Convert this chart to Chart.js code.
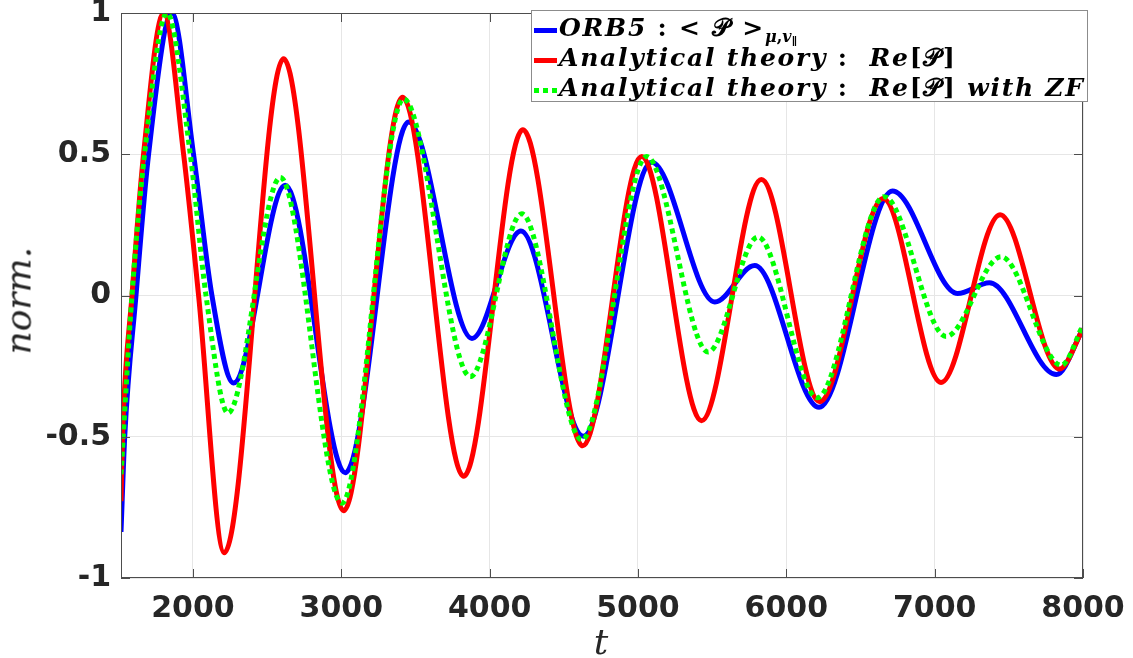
<!DOCTYPE html>
<html>
<head>
<meta charset="utf-8">
<script src="https://cdn.jsdelivr.net/npm/chart.js@4/dist/chart.umd.min.js"></script>
<style>
  body { margin: 0; background: #fff; }
  #wrap { position: relative; width: 1133px; height: 658px; background: #fff; }
  #legend {
    position: absolute; left: 531px; top: 10px; width: 557px; height: 92px;
    background: #fff; border: 1px solid #8c8c8c; box-sizing: border-box;
    font-family: "DejaVu Serif", serif; font-weight: bold; font-size: 25px; color: #000;
    letter-spacing: 1.75px;
  }
  .row { position: absolute; left: 0; height: 30px; line-height: 30px; white-space: nowrap; }
  .ln { position: absolute; left: 2px; top: 15px; width: 23px; height: 5px; }
  .dots { background: repeating-linear-gradient(90deg, #00ff00 0 5px, transparent 5px 9px); }
  .tx { position: absolute; left: 27px; top: 0; }
  .tx i { font-style: italic; }
  .tx sub { font-size: 16px; vertical-align: -6px; line-height: 0; letter-spacing: 0; }
  .tx sub sub { font-size: 11px; vertical-align: -3px; }
  #ylab { position: absolute; left: -22px; top: 294px; width: 80px; text-align: center;
    transform: rotate(-90deg); font-family: "DejaVu Serif", serif; font-style: italic; font-size: 36px; color: #262626; }
  #xlab { position: absolute; left: 581px; top: 621px; width: 40px; text-align: center;
    font-family: "DejaVu Serif", serif; font-style: italic; font-size: 36px; color: #262626; }
</style>
</head>
<body>
<div id="wrap">
  <canvas id="chart" width="1133" height="658"></canvas>
  <div id="legend">
    <div class="row" style="top:2px"><span class="ln" style="background:#0000ff"></span><span class="tx"><i>ORB5</i> : &lt; 𝒫 &gt;<sub><i>μ</i>,<i>v</i><sub>∥</sub></sub></span></div>
    <div class="row" style="top:32px"><span class="ln" style="background:#ff0000"></span><span class="tx"><i>Analytical theory</i> :&nbsp; <i>Re</i>[𝒫]</span></div>
    <div class="row" style="top:62px"><span class="ln dots"></span><span class="tx"><i>Analytical theory</i> :&nbsp; <i>Re</i>[𝒫] <i>with ZF</i></span></div>
  </div>
  <div id="ylab">norm.</div>
  <div id="xlab">t</div>
</div>
<script>
// ORB5 simulation
const orbT = [1515, 1540, 1616, 1701, 1858, 2004, 2128, 2274, 2622, 3027, 3454, 3881, 4211, 4632, 5092, 5518, 5787, 6221, 6716, 7155, 7369, 7820, 8000];
const orbY = [-0.837, -0.5, 0, 0.5, 1.0, 0.5, 0, -0.31, 0.39, -0.627, 0.614, -0.152, 0.228, -0.498, 0.472, -0.023, 0.106, -0.396, 0.37, 0.007, 0.045, -0.28, -0.118];

// analytical theory Re[P]
const anaT = [1515, 1525, 1589, 1667, 1802, 1937, 2038, 2211, 2611, 3016, 3413, 3825, 4224, 4628, 5025, 5428, 5832, 6225, 6653, 7043, 7441, 7842, 8000];
const anaY = [-0.728, -0.5, 0, 0.5, 1.0, 0.5, 0, -0.911, 0.838, -0.762, 0.702, -0.64, 0.587, -0.532, 0.492, -0.443, 0.411, -0.376, 0.343, -0.308, 0.286, -0.26, -0.118];

// analytical theory Re[P] with zonal flow
const zfT = [1515, 1589, 1674, 1825, 1982, 2088, 2236, 2589, 3004, 3420, 3870, 4217, 4621, 5058, 5473, 5809, 6209, 6660, 7077, 7448, 7854, 8000];
const zfY = [-0.633, 0, 0.5, 1.0, 0.5, 0, -0.416, 0.418, -0.735, 0.696, -0.287, 0.289, -0.511, 0.492, -0.2, 0.207, -0.362, 0.35, -0.145, 0.137, -0.247, -0.105];

const xTicks = [2000, 3000, 4000, 5000, 6000, 7000, 8000];
const yTicks = [-1, -0.5, 0, 0.5, 1];

const pts = (xs, ys) => xs.map((x, i) => ({ x: x, y: ys[i] }));

// box round the axes with inward ticks, like matlab
const framePlugin = {
  id: "frame",
  afterDatasetsDraw(chart) {
    const { ctx, chartArea: a, scales } = chart;
    ctx.save();
    ctx.strokeStyle = "#4d4d4d";
    ctx.lineWidth = 1;
    ctx.strokeRect(a.left + 0.5, a.top + 0.5, a.width - 1, a.height - 1);
    ctx.beginPath();
    for (const v of xTicks) {
      const px = Math.round(scales.x.getPixelForValue(v)) + 0.5;
      ctx.moveTo(px, a.bottom); ctx.lineTo(px, a.bottom - 9);
      ctx.moveTo(px, a.top); ctx.lineTo(px, a.top + 9);
    }
    for (const v of yTicks) {
      const py = Math.round(scales.y.getPixelForValue(v)) + 0.5;
      ctx.moveTo(a.left, py); ctx.lineTo(a.left + 9, py);
      ctx.moveTo(a.right, py); ctx.lineTo(a.right - 9, py);
    }
    ctx.stroke();
    ctx.restore();
  },
};

new Chart(document.getElementById("chart"), {
  type: "line",
  data: {
    datasets: [
      { label: "ORB5", data: pts(orbT, orbY), borderColor: "#0000ff", borderWidth: 5, order: 3 },
      { label: "Analytical theory", data: pts(anaT, anaY), borderColor: "#ff0000", borderWidth: 5, order: 2 },
      { label: "Analytical theory with ZF", data: pts(zfT, zfY), borderColor: "#00ff00", borderWidth: 5, borderDash: [5, 4], order: 1 },
    ],
  },
  options: {
    responsive: false,
    animation: false,
    devicePixelRatio: 1,
    layout: { padding: { top: 13, right: 50, left: 0, bottom: 0 } },
    elements: {
      point: { radius: 0 },
      line: { cubicInterpolationMode: "monotone", fill: false, borderCapStyle: "butt" },
    },
    plugins: { legend: { display: false }, tooltip: { enabled: false } },
    scales: {
      x: {
        type: "linear",
        min: 1515,
        max: 8000,
        afterBuildTicks: (s) => { s.ticks = xTicks.map((v) => ({ value: v })); },
        afterFit: (s) => { s.height = 80; s.paddingLeft = 0; s.paddingRight = 0; },
        grid: { color: "#e6e6e6", drawTicks: false },
        border: { display: false },
        ticks: {
          padding: 13, color: "#262626", maxRotation: 0,
          font: { family: "DejaVu Sans", weight: "bold", size: 30 },
          callback: (v) => String(v),
        },
      },
      y: {
        min: -1,
        max: 1,
        afterBuildTicks: (s) => { s.ticks = yTicks.map((v) => ({ value: v })); },
        afterFit: (s) => { s.width = 121; s.paddingTop = 0; s.paddingBottom = 0; },
        grid: { color: "#e6e6e6", drawTicks: false },
        border: { display: false },
        ticks: {
          padding: 10, color: "#262626",
          font: { family: "DejaVu Sans", weight: "bold", size: 30 },
          callback: (v) => String(v),
        },
      },
    },
  },
  plugins: [framePlugin],
});
</script>
</body>
</html>
